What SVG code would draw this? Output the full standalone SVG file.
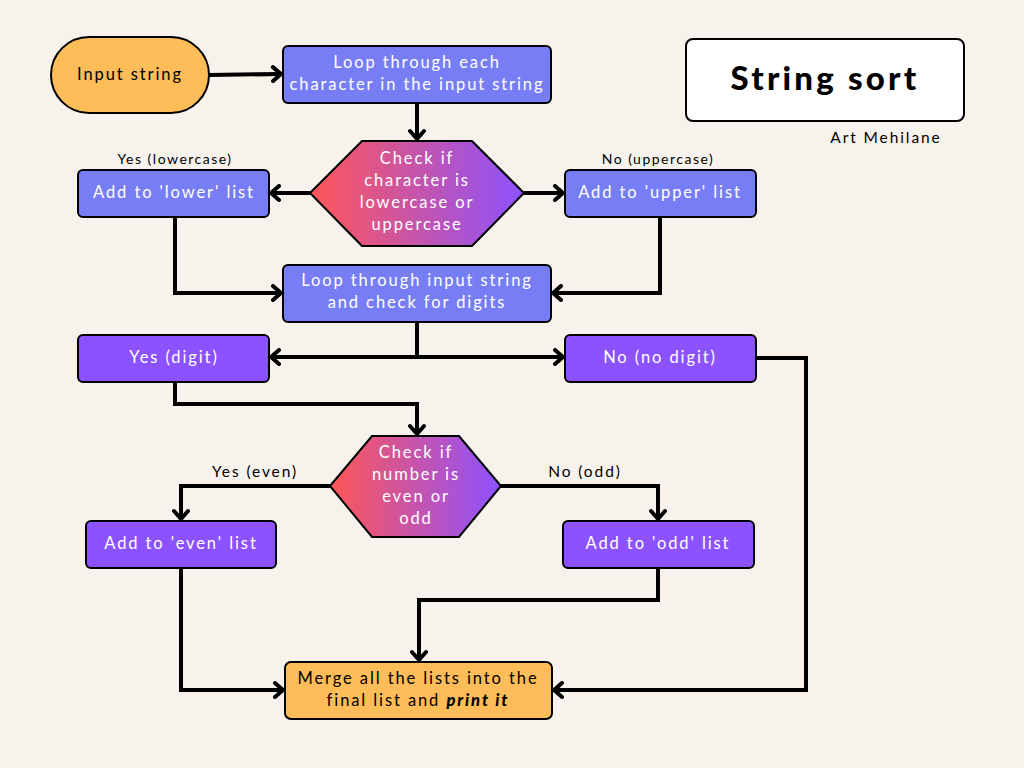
<svg xmlns="http://www.w3.org/2000/svg" width="1024" height="768" viewBox="0 0 1024 768">
<defs>
<linearGradient id="hexg" x1="0" y1="0" x2="1" y2="0">
<stop offset="0" stop-color="#FF5757"/>
<stop offset="1" stop-color="#8C52FF"/>
</linearGradient>
<marker id="ah" markerUnits="userSpaceOnUse" markerWidth="16" markerHeight="18" refX="11" refY="9" orient="auto">
<path d="M3,2 L11,9 L3,16" fill="none" stroke="#000" stroke-width="4" stroke-linecap="round" stroke-linejoin="round"/>
</marker>
<style>
.t{font-family:Lato,"Liberation Sans",sans-serif;font-size:16.5px;letter-spacing:1.9px;text-anchor:middle}
.w{fill:#fff}
.k{fill:#000}
.s{font-family:Lato,"Liberation Sans",sans-serif;font-size:14px;letter-spacing:1.5px;text-anchor:middle;fill:#000}
.blue{fill:#777EF5;stroke:#000;stroke-width:2}
.purp{fill:#8C52FF;stroke:#000;stroke-width:2}
.orng{fill:#FFBD59;stroke:#000;stroke-width:2}
.hex{fill:url(#hexg);stroke:#000;stroke-width:2}
.c{fill:none;stroke:#000;stroke-width:4;stroke-linejoin:miter}
</style>
</defs>
<rect width="1024" height="768" fill="#F7F3EC"/>

<g id="connectors">
<path class="c" d="M209,75 L281,74" marker-end="url(#ah)"/>
<path class="c" d="M417,103 L417,139" marker-end="url(#ah)"/>
<path class="c" d="M310,193 L271,193" marker-end="url(#ah)"/>
<path class="c" d="M524,193 L563,193" marker-end="url(#ah)"/>
<path class="c" d="M175,217 L175,293 L281,293" marker-end="url(#ah)"/>
<path class="c" d="M660,217 L660,293 L553,293" marker-end="url(#ah)"/>
<path class="c" d="M417,322 L417,357"/>
<path class="c" d="M417,357 L271,357" marker-end="url(#ah)"/>
<path class="c" d="M417,357 L563,357" marker-end="url(#ah)"/>
<path class="c" d="M175,382 L175,404 L417,404 L417,434" marker-end="url(#ah)"/>
<path class="c" d="M756,358 L806,358 L806,690 L554,690" marker-end="url(#ah)"/>
<path class="c" d="M330,486 L181,486 L181,519" marker-end="url(#ah)"/>
<path class="c" d="M501,486 L658,486 L658,519" marker-end="url(#ah)"/>
<path class="c" d="M181,568 L181,690 L283,690" marker-end="url(#ah)"/>
<path class="c" d="M658,568 L658,600 L419,600 L419,660" marker-end="url(#ah)"/>
</g>

<g id="input">
<rect class="orng" x="51" y="37" width="158" height="76" rx="38"/>
<text class="t k" x="130" y="80">Input string</text>
</g>

<g id="loop1">
<rect class="blue" x="283" y="46" width="268" height="57" rx="5"/>
<text class="t w" x="417" y="68">Loop through each</text>
<text class="t w" x="417" y="90">character in the input string</text>
</g>

<g id="check-case">
<polygon class="hex" points="310,193 362,141 472,141 524,193 472,246 362,246"/>
<text class="t w" x="417" y="164">Check if</text>
<text class="t w" x="417" y="186">character is</text>
<text class="t w" x="417" y="208">lowercase or</text>
<text class="t w" x="417" y="230">uppercase</text>
</g>

<g id="lower">
<text class="s" x="175" y="164">Yes (lowercase)</text>
<rect class="blue" x="78" y="170" width="191" height="47" rx="5"/>
<text class="t w" x="174" y="198">Add to 'lower' list</text>
</g>

<g id="upper">
<text class="s" x="658" y="164">No (uppercase)</text>
<rect class="blue" x="565" y="170" width="191" height="47" rx="5"/>
<text class="t w" x="660" y="198">Add to 'upper' list</text>
</g>

<g id="loop2">
<rect class="blue" x="283" y="265" width="268" height="57" rx="5"/>
<text class="t w" x="417" y="286">Loop through input string</text>
<text class="t w" x="417" y="308">and check for digits</text>
</g>

<g id="digit-yes">
<rect class="purp" x="78" y="335" width="191" height="47" rx="5"/>
<text class="t w" x="174" y="363">Yes (digit)</text>
</g>

<g id="digit-no">
<rect class="purp" x="565" y="335" width="191" height="47" rx="5"/>
<text class="t w" x="660" y="363">No (no digit)</text>
</g>

<g id="check-even">
<polygon class="hex" points="330,486 372,436 459,436 501,486 459,537 372,537"/>
<text class="t w" x="416" y="458">Check if</text>
<text class="t w" x="416" y="480">number is</text>
<text class="t w" x="416" y="502">even or</text>
<text class="t w" x="416" y="524">odd</text>
</g>

<text class="t k" x="255" y="477" style="font-size:15.5px">Yes (even)</text>
<text class="t k" x="585" y="477" style="font-size:15.5px">No (odd)</text>

<g id="even">
<rect class="purp" x="86" y="521" width="190" height="47" rx="5"/>
<text class="t w" x="181" y="549">Add to 'even' list</text>
</g>

<g id="odd">
<rect class="purp" x="563" y="521" width="191" height="47" rx="5"/>
<text class="t w" x="658" y="549">Add to 'odd' list</text>
</g>

<g id="merge">
<rect class="orng" x="285" y="662" width="267" height="57" rx="6"/>
<text class="t k" x="418" y="684">Merge all the lists into the</text>
<text class="t k" x="418" y="706">final list and <tspan font-weight="900" font-style="italic">print it</tspan></text>
</g>

<g id="title">
<rect x="686" y="39" width="278" height="82" rx="7" fill="#fff" stroke="#000" stroke-width="2"/>
<text x="825" y="90" style="font-family:Lato,'Liberation Sans',sans-serif;font-size:33px;font-weight:900;letter-spacing:3.2px;text-anchor:middle" fill="#000">String sort</text>
<text class="t k" x="886" y="143" style="font-size:15.5px">Art Mehilane</text>
</g>
</svg>
